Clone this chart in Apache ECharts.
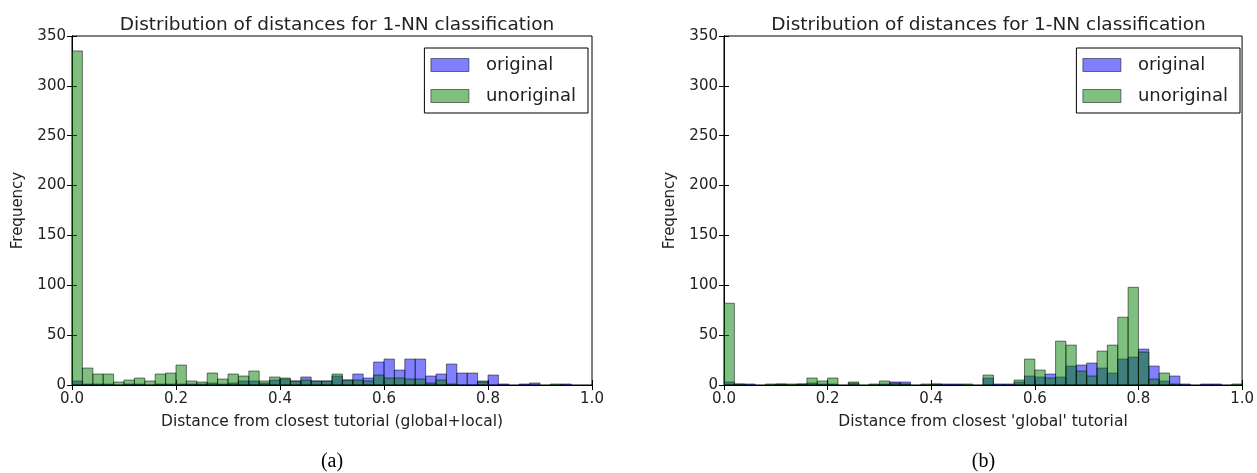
<!DOCTYPE html>
<html><head><meta charset="utf-8">
<script src="https://cdn.jsdelivr.net/npm/echarts@6/dist/echarts.min.js"></script>
<style>html,body{margin:0;padding:0;background:#fff}#c{width:1257px;height:473px}</style>
</head><body><div id="c"></div>
<script>
// Histogram bins: 50 bins of width 0.02 over [0, 1]
const binWidth = 0.02;
const xTickInterval = 0.2;
const yTickInterval = 50;
const yMax = 350;

// (a) distances from closest tutorial (global+local)
const leftOriginal = [4,1,1,1,0,1,1,0,1,1, 1,1,1,2,1,2,4,4,2,5, 6,4,8,4,4,9,5,11,7,23, 26,15,26,26,9,11,21,12,12,4, 10,1,0,1,2,0,0,1,0,0];
const leftUnoriginal = [335,17,11,11,3,5,7,4,11,12, 20,4,3,12,6,11,9,14,4,8, 7,4,5,4,4,11,5,5,4,10, 7,7,6,6,2,5,1,0,0,3, 0,0,0,0,0,0,1,0,0,0];

// (b) distances from closest 'global' tutorial
const rightOriginal = [3,1,1,0,0,1,0,1,2,1, 1,0,2,0,0,1,3,3,0,0, 1,1,1,0,0,7,1,1,3,9, 8,11,8,19,20,22,17,12,26,28, 36,19,4,9,1,0,1,1,0,0];
const rightUnoriginal = [82,1,0,0,1,1,1,1,7,4, 7,0,3,0,1,4,2,1,0,1, 1,0,0,1,0,10,0,0,5,26, 15,7,44,40,14,9,34,40,68,98, 33,6,12,1,0,0,0,0,0,1];

const seriesNames = ['original', 'unoriginal'];
const titleText = 'Distribution of distances for 1-NN classification';
const xNames = ['Distance from closest tutorial (global+local)', "Distance from closest 'global' tutorial"];
const yName = 'Frequency';
const captions = ['(a)', '(b)'];

const BLUE = 'rgba(0,0,255,0.5)';
const GREEN = 'rgba(0,128,0,0.5)';
const EDGE = 'rgba(0,0,0,0.5)';
const FONT = 'DejaVu Sans';

function toBins(counts) {
  const out = [];
  for (let i = 0; i < counts.length; i++) {
    if (counts[i] > 0) out.push([i * binWidth, (i + 1) * binWidth, counts[i]]);
  }
  return out;
}

function renderBar(params, api) {
  const p0 = api.coord([api.value(0), 0]);
  const p1 = api.coord([api.value(1), api.value(2)]);
  return {
    type: 'rect',
    shape: { x: p0[0], y: p1[1], width: p1[0] - p0[0], height: p0[1] - p1[1] },
    style: { fill: api.visual('color'), stroke: EDGE, lineWidth: 1 }
  };
}

const grids = [
  { left: 72, right: 665, top: 36, bottom: 88 },
  { left: 724, right: 14, top: 36, bottom: 88 }
];

const xAxes = [], yAxes = [], series = [], titles = [], legends = [], graphics = [];
grids.forEach((g, gi) => {
  g.show = true; g.borderColor = '#000'; g.borderWidth = 1; g.containLabel = false;
  const cx = g.left + (1257 - g.left - g.right) / 2;
  const base = { gridIndex: gi, type: 'value', min: 0, max: 1, interval: xTickInterval, splitLine: { show: false },
    axisLine: { show: true, lineStyle: { color: '#000', width: 1 } },
    axisTick: { show: true, inside: true, length: 5, lineStyle: { color: '#000' } } };
  xAxes.push(Object.assign({}, base, {
    position: 'bottom',
    name: xNames[gi], nameLocation: 'middle', nameGap: 29,
    nameTextStyle: { fontFamily: FONT, fontSize: 15.5, color: '#222' },
    axisLabel: { fontFamily: FONT, fontSize: 15, color: '#222', margin: 7, formatter: v => v.toFixed(1) }
  }));
  xAxes.push(Object.assign({}, base, { position: 'top', axisLabel: { show: false } }));
  const ybase = { gridIndex: gi, type: 'value', min: 0, max: yMax, interval: yTickInterval, splitLine: { show: false },
    axisLine: { show: true, lineStyle: { color: '#000', width: 1 } },
    axisTick: { show: true, inside: true, length: 5, lineStyle: { color: '#000' } } };
  yAxes.push(Object.assign({}, ybase, {
    position: 'left',
    name: yName, nameLocation: 'middle', nameGap: 46, nameRotate: 90,
    nameTextStyle: { fontFamily: FONT, fontSize: 15, color: '#222' },
    axisLabel: { fontFamily: FONT, fontSize: 15, color: '#222', margin: 6 }
  }));
  yAxes.push(Object.assign({}, ybase, { position: 'right', axisLabel: { show: false } }));

  const data = gi === 0 ? [leftOriginal, leftUnoriginal] : [rightOriginal, rightUnoriginal];
  [BLUE, GREEN].forEach((col, si) => {
    series.push({
      type: 'custom', name: seriesNames[si], xAxisIndex: gi * 2, yAxisIndex: gi * 2,
      renderItem: renderBar, clip: true,
      itemStyle: { color: col, borderColor: EDGE, borderWidth: 1 },
      encode: { x: [0, 1], y: 2 },
      data: toBins(data[si])
    });
  });

  titles.push({ text: titleText, left: cx, top: 11, textAlign: 'center',
    textStyle: { fontFamily: FONT, fontSize: 18.5, fontWeight: 'normal', color: '#222' } });

  graphics.push({ type: 'text', x: cx, y: 462, style: { text: captions[gi], font: '20px "Liberation Serif"', fill: '#000', textAlign: 'center', textVerticalAlign: 'middle' } });
  legends.push({ right: gi === 0 ? 1257 - 588 : 1257 - 1240, top: 48, orient: 'vertical',
    data: seriesNames, icon: 'rect', itemWidth: 38, itemHeight: 13, itemGap: 13,
    padding: [8, 12, 8, 6], borderColor: '#000', borderWidth: 1, backgroundColor: '#fff',
    selectedMode: false,
    itemStyle: { borderColor: EDGE, borderWidth: 1 },
    textStyle: { fontFamily: FONT, fontSize: 18, color: '#222', padding: [0, 0, 0, 12] } });
});

const chart = echarts.init(document.getElementById('c'), null, { renderer: 'canvas' });
chart.setOption({
  animation: false,
  backgroundColor: '#fff',
  title: titles,
  legend: legends,
  grid: grids,
  xAxis: xAxes,
  yAxis: yAxes,
  series: series,
  graphic: graphics
});
</script></body></html>
